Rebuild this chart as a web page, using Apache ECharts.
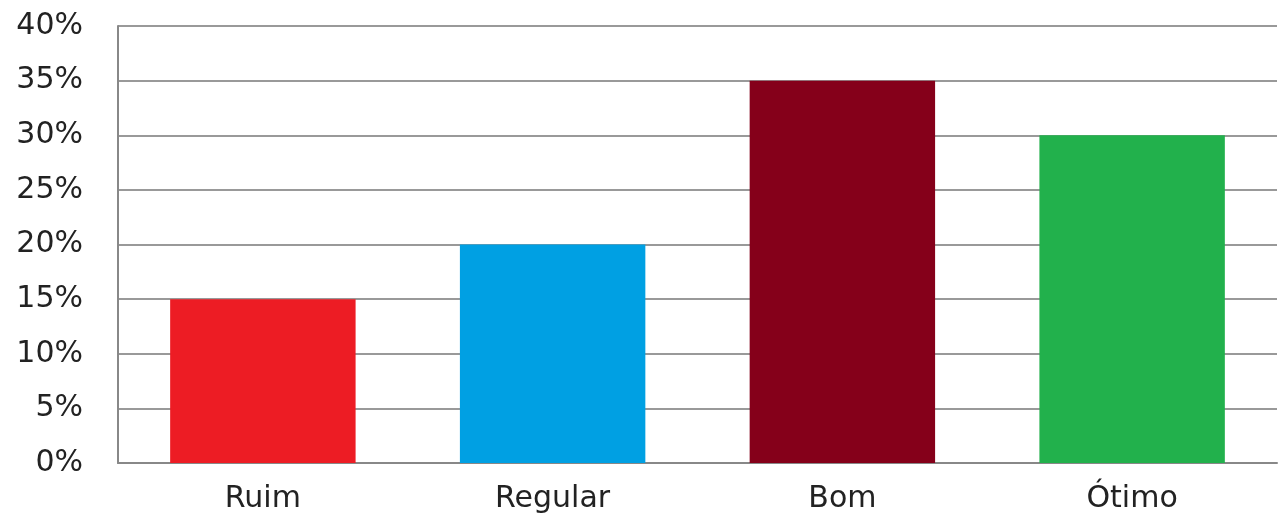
<!DOCTYPE html>
<html><head><meta charset="utf-8">
<script src="https://cdn.jsdelivr.net/npm/echarts@6/dist/echarts.min.js"></script>
<style>html,body{margin:0;padding:0;background:#fff}#c{width:1279px;height:517px}</style>
</head><body><div id="c"></div>
<script>
const categories = ['Ruim', 'Regular', 'Bom', 'Ótimo'];
const values = [15, 20, 35, 30];
const barColors = ['#ED1C24', '#00A0E3', '#85001A', '#22B14C'];
const yTicks = [0, 5, 10, 15, 20, 25, 30, 35, 40];

const chart = echarts.init(document.getElementById('c'));
chart.setOption({
  animation: false,
  grid: { left: 118, right: 2, top: 26, bottom: 54 },
  xAxis: {
    type: 'category', data: categories,
    axisLine: { show: true, lineStyle: { color: '#888', width: 2 } },
    axisTick: { show: false },
    axisLabel: { color: '#222', fontFamily: 'DejaVu Sans', fontSize: 30, margin: 21 }
  },
  yAxis: {
    type: 'value', min: yTicks[0], max: yTicks[yTicks.length - 1], interval: 5,
    axisLine: { show: true, lineStyle: { color: '#888', width: 2 } },
    axisTick: { show: false },
    splitLine: { show: true, lineStyle: { color: '#999', width: 2 } },
    axisLabel: { color: '#222', fontFamily: 'DejaVu Sans', fontSize: 30, margin: 35, formatter: '{value}%' }
  },
  series: [{
    type: 'bar', barWidth: '64%',
    data: values.map((v, i) => ({ value: v, itemStyle: { color: barColors[i] } }))
  }]
});
</script></body></html>
